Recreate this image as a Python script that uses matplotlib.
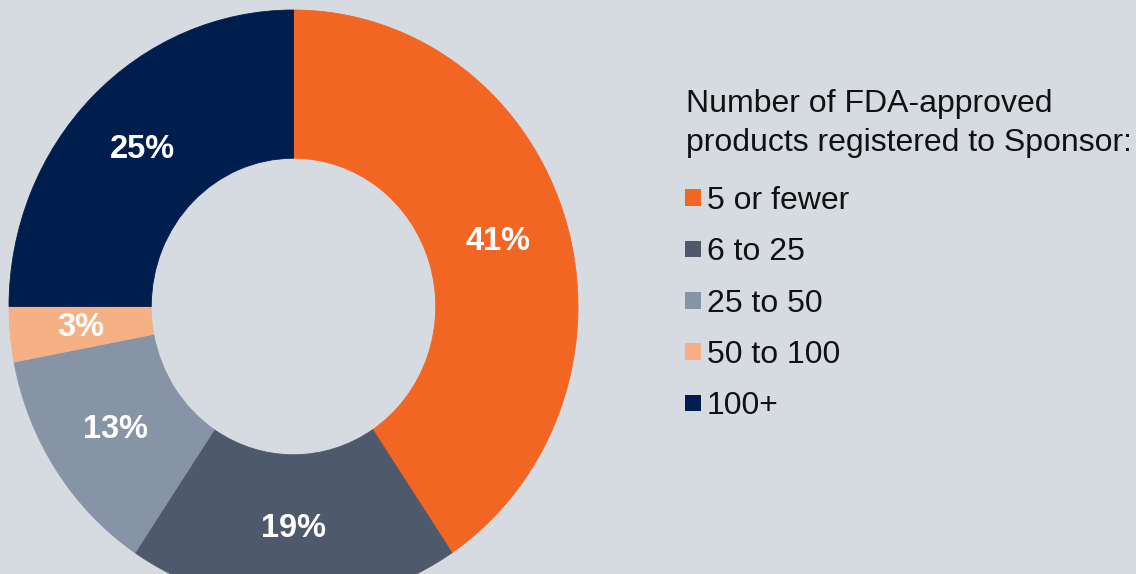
import matplotlib
matplotlib.use("Agg")
import matplotlib.pyplot as plt
from matplotlib.patches import Rectangle

categories = ["5 or fewer", "6 to 25", "25 to 50", "50 to 100", "100+"]
shares = [40.6, 18.8, 12.6, 3.0, 25.0]
colors = ["#F26522", "#4E5A6B", "#8794A5", "#F5B184", "#001E4D"]
legend_title = "Number of FDA-approved\nproducts registered to Sponsor:"

bg = "#D6DBE2"
plt.rcParams['font.family'] = ['Liberation Sans', 'DejaVu Sans']

W, H = 1136, 574
fig = plt.figure(figsize=(W / 100, H / 100), dpi=100, facecolor=bg)

# donut axes (slightly taller than wide, like the reference)
cx, cy, rx, ry = 293.5, 306.5, 284.5, 296.5
ax = fig.add_axes([(cx - rx) / W, 1 - (cy + ry) / H, 2 * rx / W, 2 * ry / H])
ax.set_facecolor(bg)
wedges, texts, autotexts = ax.pie(
    shares, colors=colors, startangle=90, counterclock=False, radius=1.0,
    wedgeprops=dict(width=0.5, linewidth=0.6),
    autopct='%.0f%%', pctdistance=0.75,
    textprops=dict(color='white', fontsize=23.5, fontweight='bold'))
for w, c in zip(wedges, colors):
    w.set_edgecolor(c)
ax.set_aspect('auto')
ax.set_xlim(-1, 1)
ax.set_ylim(-1, 1)
ax.axis('off')

# legend drawn manually
txt_color = "#111111"
fig.text(686 / W, 1 - 89 / H, legend_title, ha='left', va='top',
         fontsize=23, color=txt_color, linespacing=1.4)
y0, dy = 197.5, 51.3
for i, (lab, col) in enumerate(zip(categories, colors)):
    yc = y0 + i * dy
    fig.patches.append(Rectangle((685 / W, 1 - (yc + 8.5) / H), 16 / W, 16.5 / H,
                                 transform=fig.transFigure, facecolor=col,
                                 edgecolor='none'))
    fig.text(707 / W, 1 - yc / H, lab, ha='left', va='center_baseline',
             fontsize=23, color=txt_color)

fig.savefig("out.png", dpi=100, facecolor=bg)
